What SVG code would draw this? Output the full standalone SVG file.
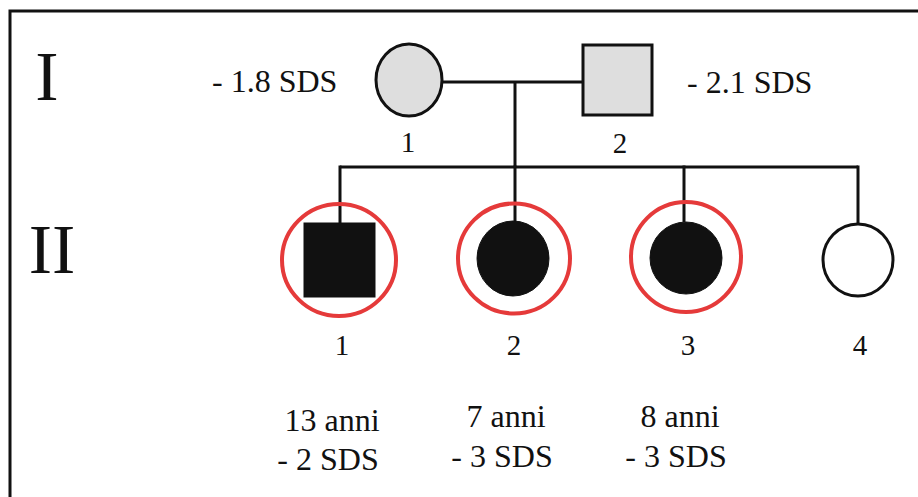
<svg xmlns="http://www.w3.org/2000/svg" width="918" height="497" viewBox="0 0 918 497">
  <style>
    .gen { font-size: 70px; text-anchor: middle; }
    .num { font-size: 29px; text-anchor: middle; }
    .lbl { font-size: 32px; }
    .mid { text-anchor: middle; }
    .line { stroke: #111; stroke-width: 3; fill: none; }
    .carrier { fill: #dedede; stroke: #111; stroke-width: 3; }
    .affected { fill: #111; stroke: #111; stroke-width: 1; }
    .unaffected { fill: #fff; stroke: #111; stroke-width: 3; }
    .ring { fill: none; stroke: #e53a3a; stroke-width: 4; }
  </style>
  <rect x="0" y="0" width="918" height="497" fill="#fff"/>
  <path d="M10,497 V11 H918" fill="none" stroke="#111" stroke-width="3"/>

  <g font-family="'Liberation Serif', serif" fill="#111">
    <text class="gen" x="47" y="100">I</text>
    <text class="gen" x="52" y="273">II</text>
  </g>

  <g id="connectors">
    <line class="line" x1="442" y1="82" x2="583" y2="82"/>
    <line class="line" x1="515" y1="82" x2="515" y2="167"/>
    <line class="line" x1="340" y1="167" x2="858" y2="167"/>
    <line class="line" x1="340" y1="165.5" x2="340" y2="223"/>
    <line class="line" x1="515" y1="165.5" x2="515" y2="222"/>
    <line class="line" x1="684" y1="165.5" x2="684" y2="222"/>
    <line class="line" x1="858" y1="165.5" x2="858" y2="224"/>
  </g>

  <g id="I-1" font-family="'Liberation Serif', serif" fill="#111">
    <ellipse class="carrier" cx="409" cy="80" rx="33" ry="36"/>
    <text class="lbl" x="212" y="92">- 1.8 SDS</text>
    <text class="num" x="408" y="152">1</text>
  </g>

  <g id="I-2" font-family="'Liberation Serif', serif" fill="#111">
    <rect class="carrier" x="583" y="45" width="69" height="70"/>
    <text class="lbl" x="687" y="93">- 2.1 SDS</text>
    <text class="num" x="620" y="153">2</text>
  </g>

  <g id="II-1" font-family="'Liberation Serif', serif" fill="#111">
    <ellipse class="ring" cx="339" cy="260" rx="57" ry="56"/>
    <rect class="affected" x="304" y="223" width="71" height="74"/>
    <text class="num" x="342" y="355">1</text>
    <text class="lbl mid" x="332" y="431">13 anni</text>
    <text class="lbl mid" x="328" y="470">- 2 SDS</text>
  </g>

  <g id="II-2" font-family="'Liberation Serif', serif" fill="#111">
    <ellipse class="ring" cx="514" cy="258.5" rx="56" ry="55"/>
    <ellipse class="affected" cx="513" cy="258.5" rx="36" ry="37.5"/>
    <text class="num" x="514" y="355">2</text>
    <text class="lbl mid" x="506" y="427">7 anni</text>
    <text class="lbl mid" x="502" y="467">- 3 SDS</text>
  </g>

  <g id="II-3" font-family="'Liberation Serif', serif" fill="#111">
    <ellipse class="ring" cx="686" cy="257" rx="55" ry="55"/>
    <ellipse class="affected" cx="686" cy="258" rx="36" ry="36"/>
    <text class="num" x="688" y="355">3</text>
    <text class="lbl mid" x="680" y="427">8 anni</text>
    <text class="lbl mid" x="676" y="467">- 3 SDS</text>
  </g>

  <g id="II-4" font-family="'Liberation Serif', serif" fill="#111">
    <ellipse class="unaffected" cx="858" cy="260" rx="35" ry="36"/>
    <text class="num" x="860" y="355">4</text>
  </g>
</svg>
